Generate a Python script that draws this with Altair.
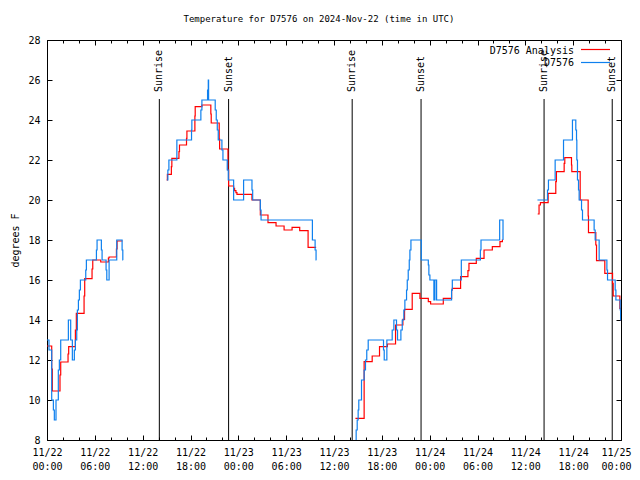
import altair as alt
import pandas as pd

FONT = "DejaVu Sans Mono"
RED = "#ff0000"
BLUE = "#0f80ee"
BASE = pd.Timestamp("2024-11-22T00:00:00")

# ---- data (hours after 2024-11-22 00:00 UTC, deg F) ----
analysis_hours_1 = [0, 0.59, 0.67, 1.63, 1.72, 2.64, 2.72, 3.56, 3.68, 4.65, 4.73, 5.65, 5.74, 6.74, 7.7, 7.79, 8.71, 8.79, 9.46]
analysis_temps_1 = [12.7, 11.55, 10.45, 11.25, 11.9, 12.3, 12.67, 13.5, 14.33, 15.2, 16.07, 16.55, 17.0, 16.9, 17.1, 17.15, 17.55, 17.95, 17.95]
analysis_hours_2 = [15.0, 15.1, 15.6, 15.66, 16.55, 16.62, 17.5, 17.55, 18.55, 18.59, 19.43, 20.55, 20.6, 21.6, 21.65, 22.7, 22.78, 23.41, 23.53, 23.7, 23.83, 25.71, 26.76, 27.72, 28.73, 29.74, 30.74, 31.7, 32.75, 33.76]
analysis_temps_2 = [21.0, 21.28, 21.67, 22.08, 22.42, 22.75, 23.08, 23.45, 24.2, 24.67, 24.75, 24.3, 23.85, 23.05, 22.55, 21.5, 20.7, 20.58, 20.47, 20.37, 20.28, 20.0, 19.25, 18.87, 18.7, 18.5, 18.63, 18.47, 17.63, 17.63]
analysis_hours_3 = [38.69, 39.78, 40.79, 41.71, 42.7, 43.72, 44.64, 44.85, 45.81, 46.78, 47.83, 48.12, 49.71, 50.75, 50.84, 51.88, 52.8, 52.93, 53.85, 54.82, 55.86, 56.82, 57.12, 57.2]
analysis_temps_3 = [9.08, 11.92, 12.2, 12.67, 12.8, 13.75, 14.03, 14.53, 15.33, 15.08, 14.92, 14.8, 15.08, 15.5, 15.58, 16.17, 16.47, 16.83, 17.08, 17.5, 17.67, 17.92, 18.0, 18.0]
analysis_hours_4 = [61.55, 61.72, 61.89, 62.86, 63.82, 63.9, 64.87, 64.95, 65.79, 65.83, 66.88, 67.88, 67.92, 68.84, 68.93, 69.97, 70.94, 71.02, 71.86, 71.98, 72.0]
analysis_temps_4 = [19.3, 19.75, 19.87, 20.33, 20.92, 21.42, 21.83, 22.12, 21.75, 21.42, 20.0, 19.2, 18.37, 17.75, 16.97, 16.33, 15.83, 15.2, 14.58, 14.0, 14.0]

station_hours_1 = [0, 0.25, 0.59, 0.8, 0.92, 1.13, 1.42, 1.55, 1.72, 2.68, 2.97, 3.18, 3.43, 3.56, 3.73, 3.81, 3.94, 4.06, 4.19, 4.86, 4.94, 6.2, 6.28, 6.82, 6.91, 7.41, 7.5, 7.79, 8.75, 9.42, 9.51, 9.55]
station_temps_1 = [13, 12.5, 10, 9.5, 9, 10, 11.5, 12, 13, 14, 13, 12, 12.5, 13, 13.5, 14.5, 15, 15.5, 16, 16.5, 17, 17.5, 18, 17.5, 17, 16.5, 16, 17, 18, 17.5, 17, 17]
station_hours_2 = [15.04, 15.16, 15.29, 16.29, 18.13, 18.17, 19.3, 19.43, 20.14, 20.23, 20.27, 21.1, 21.23, 21.36, 21.48, 21.94, 22.07, 22.61, 22.74, 23.41, 24.66, 25.71, 25.8, 26.76, 26.85, 33.29, 33.63, 33.75, 33.8]
station_temps_2 = [21, 21.5, 22, 23, 23.5, 24, 24.5, 25, 25.5, 26, 25, 24.5, 24, 23.5, 23, 22.5, 22, 21.5, 21, 20, 21, 20.5, 20, 19.5, 19, 18, 17.5, 17, 17]
station_hours_3 = [38.7, 38.78, 38.91, 39.03, 39.11, 39.45, 39.78, 39.95, 40.11, 40.29, 42.21, 42.3, 42.63, 43.3, 43.51, 43.84, 43.97, 44.39, 44.56, 44.76, 44.89, 45.1, 45.19, 45.31, 45.44, 45.52, 45.65, 46.95, 47.83, 47.9, 48.03, 48.53, 48.66, 48.87, 50.75, 50.84, 51.97, 54.36, 54.44, 56.78, 57.2]
station_temps_3 = [8, 8.5, 9, 9.5, 10, 11, 11.5, 12, 12.5, 13, 12.5, 12, 13, 13.5, 14, 13.5, 13, 13.5, 14, 14.5, 15, 15.5, 16, 16.5, 17, 17.5, 18, 17, 16.75, 16.25, 16, 15, 16, 15, 15.5, 16, 17, 17.5, 18, 19, 18]
station_hours_4 = [61.52, 62.78, 62.9, 63.74, 64.79, 65.91, 66.33, 66.42, 66.46, 66.54, 66.67, 66.75, 67.05, 67.17, 68.63, 68.76, 69.26, 70.23, 70.31, 71.27, 71.36, 71.9, 71.95, 72.0]
station_temps_4 = [20, 20.5, 21, 22, 23, 24, 23.5, 23, 22, 21, 20.5, 20, 19.5, 19, 18.5, 18, 17, 16.5, 16, 15.5, 15, 14.5, 14, 14]

sun_hours = [14.09, 22.78, 38.28, 46.92, 62.35, 70.9]
sun_labels = ["Sunrise", "Sunset", "Sunrise", "Sunset", "Sunrise", "Sunset"]

y_ticks = [8, 10, 12, 14, 16, 18, 20, 22, 24, 26, 28]
series_names = ["D7576 Analysis", "D7576"]
title_text = "Temperature for D7576 on 2024-Nov-22 (time in UTC)"


def iso(h):
    return (BASE + pd.Timedelta(hours=h)).strftime("%Y-%m-%dT%H:%M:%SZ")


def frame(pairs, name):
    rows = []
    for seg, (hs, ts) in enumerate(pairs):
        for h, t in zip(hs, ts):
            rows.append({"time": iso(h), "temp": t, "seg": seg, "series": name})
    return pd.DataFrame(rows)


df_red = frame([(analysis_hours_1, analysis_temps_1), (analysis_hours_2, analysis_temps_2),
                (analysis_hours_3, analysis_temps_3), (analysis_hours_4, analysis_temps_4)], series_names[0])
df_blue = frame([(station_hours_1, station_temps_1), (station_hours_2, station_temps_2),
                 (station_hours_3, station_temps_3), (station_hours_4, station_temps_4)], series_names[1])
df_sun = pd.DataFrame({"time": [iso(h) for h in sun_hours], "label": sun_labels})


def dt(h):
    return alt.DateTime(year=2024, month=11, date=22 + h // 24, hours=h % 24, utc=True)


major_vals = [dt(h) for h in range(0, 73, 6)]
minor_vals = [dt(h) for h in range(0, 73, 2)]
last_ms = int(pd.Timestamp("2024-11-25T00:00:00", tz="UTC").timestamp() * 1000)
is_last = f"datum.value >= {last_ms - 60000}"

x_scale = alt.Scale(type="utc", domain=[dt(0), dt(72)])
y_scale = alt.Scale(domain=[8, 28], nice=False, zero=False)

common = dict(domain=False, grid=False, tickColor="black", tickWidth=1)

x_major_bottom = alt.Axis(
    orient="bottom", values=major_vals, tickSize=5, offset=-5, title=None,
    labelExpr="[utcFormat(datum.value, '%m/%d'), utcFormat(datum.value, '%H:%M')]",
    labelFont=FONT, labelFontSize=10, labelColor="black", labelPadding=7,
    labelLineHeight=14, labelFlush=False, labelOverlap=False, labelAngle=0,
    labelAlign={"condition": {"test": is_last, "value": "right"}, "value": "center"},
    labelOffset={"condition": {"test": is_last, "value": 10}, "value": 0},
    labelBaseline="top", **common)
x_major_top = alt.Axis(orient="top", values=major_vals, tickSize=5, offset=-5,
                       labels=False, title=None, **common)
x_minor_bottom = alt.Axis(orient="bottom", values=minor_vals, tickSize=3, offset=-3,
                          labels=False, title=None, **common)
x_minor_top = alt.Axis(orient="top", values=minor_vals, tickSize=3, offset=-3,
                       labels=False, title=None, **common)
y_left = alt.Axis(
    orient="left", values=y_ticks, tickSize=5, offset=-5, labelPadding=7,
    labelFont=FONT, labelFontSize=10, labelColor="black", labelFlush=False,
    labelBaseline="middle",
    title="degrees F", titleFont=FONT, titleFontSize=10, titleFontWeight="normal",
    titleColor="black", titleAngle=270, titleX=-37, titleY=200,
    titleAlign="center", titleBaseline="middle", **common)
y_right = alt.Axis(orient="right", values=y_ticks, tickSize=5, offset=-5,
                   labels=False, title=None, **common)

sun_rules = alt.Chart(df_sun).mark_rule(color="black", strokeWidth=1).encode(
    x=alt.X("time:T", scale=x_scale, axis=x_minor_bottom),
    y=alt.value(59), y2=alt.value(400))

sun_text = alt.Chart(df_sun).mark_text(
    angle=270, align="left", baseline="middle", font=FONT, fontSize=10, color="black"
).encode(
    x=alt.X("time:T", scale=x_scale, axis=x_minor_top),
    y=alt.value(52), text="label:N")

red = alt.Chart(df_red).mark_line(
    interpolate="step-after", color=RED, strokeWidth=1.2, clip=True
).encode(
    x=alt.X("time:T", scale=x_scale, axis=x_major_bottom),
    y=alt.Y("temp:Q", scale=y_scale, axis=y_left),
    detail="seg:N")

blue = alt.Chart(df_blue).mark_line(
    interpolate="step-after", color=BLUE, strokeWidth=1.2, clip=True
).encode(
    x=alt.X("time:T", scale=x_scale, axis=x_major_top),
    y=alt.Y("temp:Q", scale=y_scale, axis=y_right),
    detail="seg:N")

title_mark = alt.Chart(pd.DataFrame({"t": [title_text]})).mark_text(
    align="center", baseline="middle", font=FONT, fontSize=9, color="black"
).encode(x=alt.value(272), y=alt.value(-21), text="t:N")

leg1_text = alt.Chart(pd.DataFrame({"name": [series_names[0]]})).mark_text(
    align="right", baseline="middle", font=FONT, fontSize=10, color="black"
).encode(x=alt.value(527), y=alt.value(10.5), text="name:N")
leg1_line = alt.Chart(pd.DataFrame({"name": [series_names[0]]})).mark_rule(
    color=RED, strokeWidth=1.2
).encode(x=alt.value(534), x2=alt.value(563), y=alt.value(9.5))
leg2_text = alt.Chart(pd.DataFrame({"name": [series_names[1]]})).mark_text(
    align="right", baseline="middle", font=FONT, fontSize=10, color="black"
).encode(x=alt.value(527), y=alt.value(23), text="name:N")
leg2_line = alt.Chart(pd.DataFrame({"name": [series_names[1]]})).mark_rule(
    color=BLUE, strokeWidth=1.2
).encode(x=alt.value(534), x2=alt.value(563), y=alt.value(22.5))

chart = alt.layer(
    sun_rules, red, blue, sun_text, title_mark, leg1_text, leg1_line, leg2_text, leg2_line
).resolve_axis(x="independent", y="independent").properties(
    width=574, height=400,
    padding={"left": 39, "top": 32, "right": 11, "bottom": 32},
    autosize=alt.AutoSizeParams(type="none"),
    background="white",
).configure_view(stroke="black", strokeWidth=1)

chart.save("out.html", embed_options={"renderer": "svg", "actions": False})
